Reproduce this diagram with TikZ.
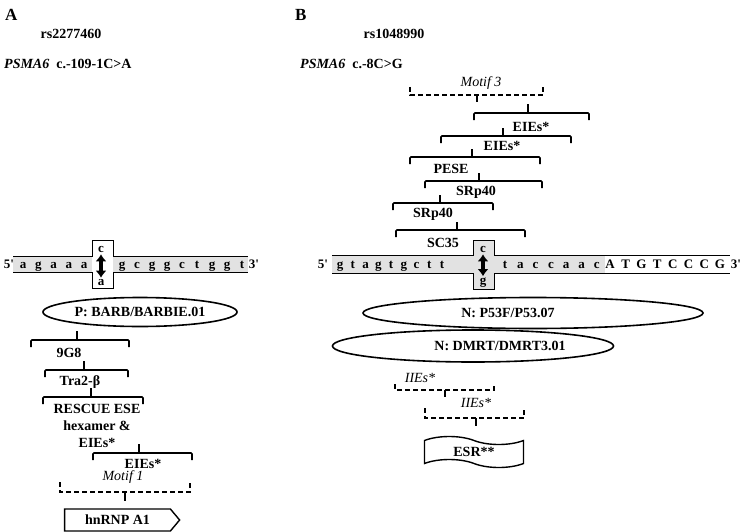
\documentclass[tikz,border=0pt]{standalone}
\usepackage{fontspec}
\setmainfont{Liberation Serif}
\usetikzlibrary{shapes.geometric,shapes.symbols,arrows.meta}
\definecolor{seqgray}{HTML}{E2E2E2}

\tikzset{
  lbl/.style={font=\bfseries\fontsize{14}{17}\selectfont, inner sep=0pt, align=center},
  mlbl/.style={font=\itshape\fontsize{14}{17}\selectfont, inner sep=0pt},
  nt/.style={font=\bfseries\fontsize{13}{15}\selectfont, inner sep=0pt, anchor=base},
  brk/.style={line width=1.6pt, rounded corners=1pt},
  dbrk/.style={line width=1.5pt, dash pattern=on 5pt off 3pt},
  strip/.style={line width=0.9pt},
  site/.style={line width=3.6pt, {Latex[length=7pt,width=11pt]}-{Latex[length=7pt,width=11pt]}, shorten <=2pt, shorten >=1pt},
  tf/.style={draw, ellipse, line width=1.6pt, lbl},
}

\begin{document}
\begin{tikzpicture}[x=1pt,y=-1pt]
    \useasboundingbox (0,0) rectangle (746,532);

    % Panel A header
    \node[lbl, font=\bfseries\fontsize{17}{20}\selectfont, anchor=west] (pa) at (5,15) {A};
    \node[lbl] (rsa) at (71,34) {rs2277460};
    \node[lbl, anchor=west] (genea) at (4,64) {\textit{PSMA6}~~c.-109-1C>A};

    % Panel B header
    \node[lbl, font=\bfseries\fontsize{17}{20}\selectfont, anchor=west] (pb) at (295,15) {B};
    \node[lbl] (rsb) at (394,34) {rs1048990};
    \node[lbl, anchor=west] (geneb) at (300,64) {\textit{PSMA6}~~c.-8C>G};

    % Sequence A
    \fill[seqgray] (13,256) rectangle (248,272);
    \fill[white] (92,240) rectangle (113,288);
    \draw[strip] (13,256) -- (92,256) -- (92,240) -- (113,240) -- (113,256) -- (248,256);
    \draw[strip] (13,272) -- (92,272) -- (92,288) -- (113,288) -- (113,272) -- (248,272);
    \node[nt] (fa) at (9,268) {5\textquotesingle};
    \node[nt] (ta) at (254,268) {3\textquotesingle};
    \foreach \c [count=\i] in {a,g,a,a,a}
        \node[nt] (la\i) at (8+15.2*\i,268) {\c};
    \foreach \c [count=\i] in {g,c,g,g,c,t,g,g,t}
        \node[nt] (ra\i) at (107+15*\i,268) {\c};
    \node[nt] (wta) at (101,252) {c};
    \node[nt] (mta) at (101,285) {a};
    \draw[site] (wta) -- (mta);

    % Sequence B
    \fill[seqgray] (332,255) rectangle (605,273);
    \fill[seqgray] (473,240) rectangle (494,289);
    \draw[strip] (332,255) -- (473,255) -- (473,240) -- (494,240) -- (494,255) -- (730,255);
    \draw[strip] (332,273) -- (473,273) -- (473,289) -- (494,289) -- (494,273) -- (730,273);
    \node[nt] (fb) at (323,268) {5\textquotesingle};
    \node[nt] (tb) at (736,268) {3\textquotesingle};
    \foreach \c [count=\i] in {g,t,a,g,t,g,c,t,t}
        \node[nt] (lb\i) at (327.25+12.75*\i,268) {\c};
    \foreach \c [count=\i] in {t,a,c,c,a,a,c}
        \node[nt] (rb\i) at (489.7+15.3*\i,268) {\c};
    \foreach \c [count=\i] in {A,T,G,T,C,C,C,G}
        \node[nt] (ub\i) at (594.3+15.7*\i,268) {\c};
    \node[nt] (wtb) at (483,252) {c};
    \node[nt] (mtb) at (483,284) {g};
    \draw[site] (wtb) -- (mtb);

    % Transcription factor sites
    \node[tf, minimum width=194, minimum height=29] (barb) at (140,312) {P: BARB/BARBIE.01};
    \node[tf, minimum width=340, minimum height=31,
          label={[lbl,xshift=-25pt]center:N: P53F/P53.07}] (p53) at (533,313) {};
    \node[tf, minimum width=281, minimum height=32,
          label={[lbl,xshift=27pt]center:N: DMRT/DMRT3.01}] (dmrt) at (473,346) {};

    % Panel A brackets
    \foreach \xa/\xb/\y/\xs/\tx/\ty/\txt [count=\i] in {
        31/129/340/77/69/353/9G8,
        45/128/370/84/80/382/Tra2-β,
        43/143/397/91/97/426/{RESCUE ESE\\hexamer \&\\EIEs*},
        93/192/453/139/143/464/EIEs*}{
        \draw[brk] (\xa,\y+7) -- (\xa,\y) -- (\xb,\y) -- (\xb,\y+7);
        \coordinate (sa\i) at (\xs,\y);
        \draw[brk] (sa\i) -- ++(0,-9);
        \node[lbl] (ka\i) at (\tx,\ty) {\txt};
    }
    \node[mlbl] (motifa) at (123,477) {Motif 1};
    \draw[dbrk] (60,482) -- (60,492) -- (190,492) -- (190,482);
    \coordinate (ma) at (125,492);
    \draw[brk] (ma) -- ++(0,9);
    \node[draw, signal, signal to=east, signal pointer angle=100, line width=1.4pt,
          minimum width=115, minimum height=22, lbl] (hnrnp) at (117.5,520) {hnRNP A1};

    % Panel B brackets
    \node[mlbl] (motifb) at (481,83) {Motif 3};
    \draw[dbrk] (410,87) -- (410,95) -- (543,95) -- (543,87);
    \coordinate (mb) at (477,95);
    \draw[brk] (mb) -- ++(0,7);
    \foreach \xa/\xb/\y/\xs/\tx/\ty/\txt [count=\i] in {
        474/589/113/528/531/127/EIEs*,
        441/571/136/503/502/146/EIEs*,
        410/540/157/472/451/169/PESE,
        425/542/181/479/476/192/SRp40,
        393/493/203/440/433/214/SRp40,
        396/525/230/457/443/243/SC35}{
        \draw[brk] (\xa,\y+7) -- (\xa,\y) -- (\xb,\y) -- (\xb,\y+7);
        \coordinate (sb\i) at (\xs,\y);
        \draw[brk] (sb\i) -- ++(0,-8.5);
        \node[lbl] (kb\i) at (\tx,\ty) {\txt};
    }

    % Intronic elements
    \node[mlbl] (iie1) at (420,378) {IIEs*};
    \draw[dbrk] (395,384) -- (395,390) -- (494,390) -- (494,384);
    \coordinate (ib1) at (445,390);
    \draw[brk] (ib1) -- ++(0,7);
    \node[mlbl] (iie2) at (476,403) {IIEs*};
    \draw[dbrk] (425,408) -- (425,418) -- (524,418) -- (524,408);
    \coordinate (ib2) at (476,418);
    \draw[brk] (ib2) -- ++(0,8);
    \node[draw, tape, tape bend top=out and in, tape bend bottom=out and in, tape bend height=8pt,
          line width=1.4pt, minimum width=99, minimum height=31, lbl] (esr) at (474,452) {ESR**};
\end{tikzpicture}
\end{document}
